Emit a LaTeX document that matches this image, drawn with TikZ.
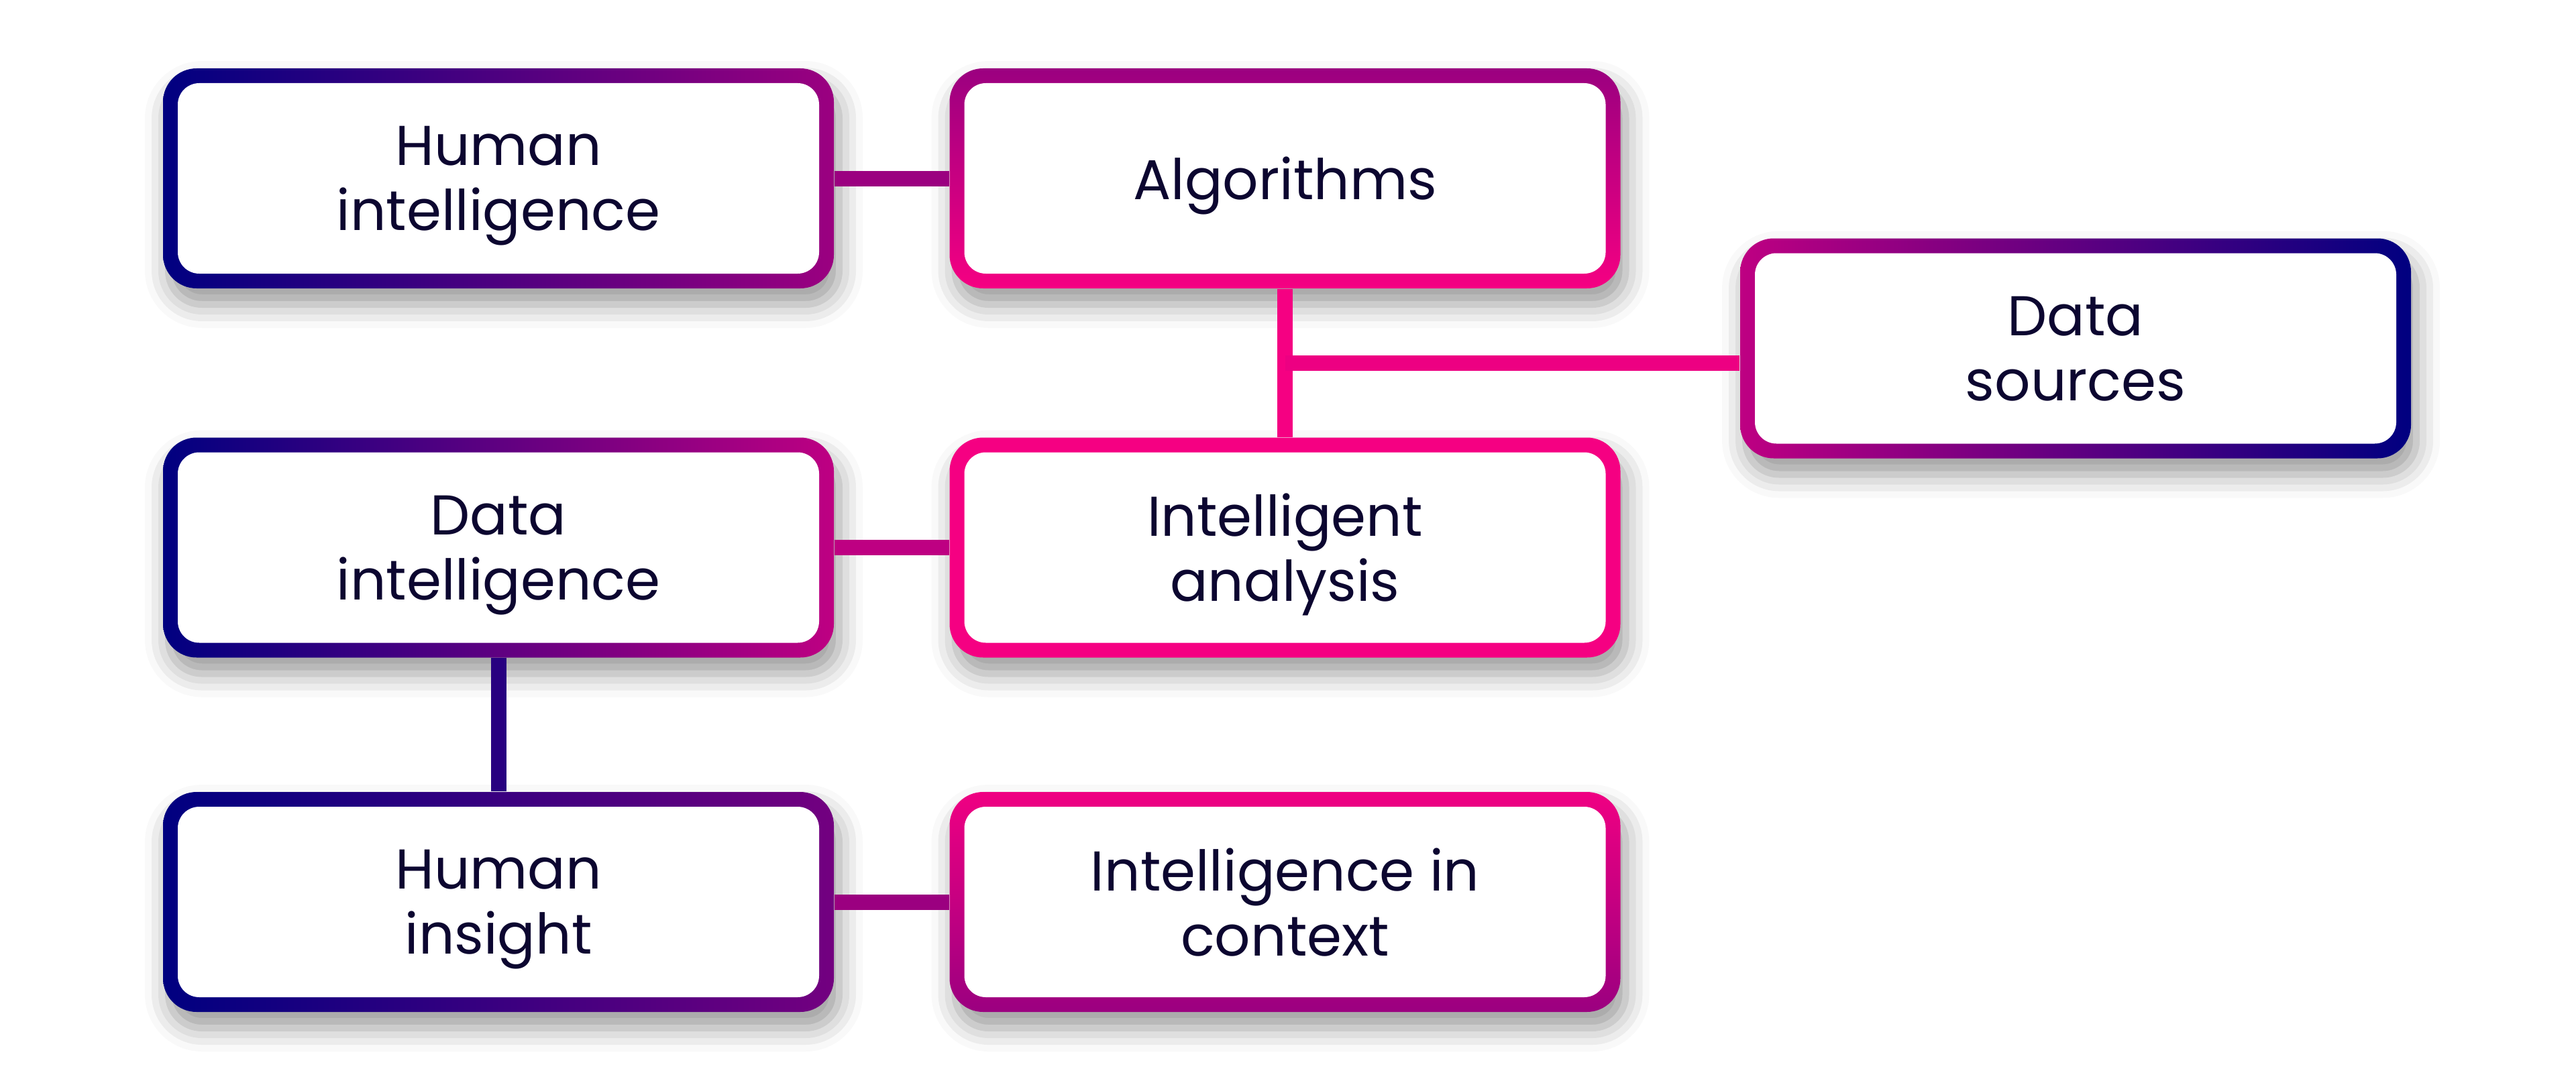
\documentclass[tikz,border=0pt]{standalone}
\usepackage{fontspec}
\setmainfont{Poppins}
\usetikzlibrary{calc,shadows.blur}

\definecolor{kNavy}{RGB}{0,0,128}
\definecolor{kIndigo}{RGB}{40,0,128}
\definecolor{kPurple}{RGB}{115,0,128}
\definecolor{kPlum}{RGB}{155,0,128}
\definecolor{kMagenta}{RGB}{190,0,130}
\definecolor{kPink}{RGB}{245,0,130}
\definecolor{kInk}{RGB}{12,6,48}

\begin{document}
\begin{tikzpicture}[
    box/.style={rectangle, rounded corners=0.5cm, minimum width=10cm, minimum height=3.28cm,
        inner sep=0pt, align=center, text=kInk, text depth=0pt, font=\fontsize{23.8}{27.6}\selectfont,
        blur shadow={shadow xshift=0.08cm, shadow yshift=-0.24cm, shadow blur radius=0.35cm, shadow opacity=40},
        path picture={\fill[white, rounded corners=0.32cm]
            ([shift={(0.22,0.22)}]path picture bounding box.south west) rectangle
            ([shift={(-0.22,-0.22)}]path picture bounding box.north east);}},
    link/.style={line width=0.23cm}
]

    % =================================================================
    % FRAME: 38.4 x 16.11 (1 cm = 100 px of the picture)
    % =================================================================
    \useasboundingbox (0,0) rectangle (38.4,-16.11);

    % =================================================================
    % PART 1: THE SEVEN BOXES
    % =================================================================
    % Left column
    \node[box, left color=kNavy, middle color=kNavy, right color=kPlum] (hi) at (7.43,-2.66) {Human\\intelligence};
    \node[box, left color=kNavy, middle color=kNavy, right color=kMagenta] (di) at (7.43,-8.165) {Data\\intelligence};
    \node[box, left color=kNavy, middle color=kNavy, right color=kPurple] (hins) at (7.43,-13.45) {Human\\insight};

    % Middle column
    \node[box, top color=kPlum, bottom color=kPink] (alg) at (19.155,-2.66) {Algorithms};
    \node[box, top color=kPink, bottom color=kPink] (ia) at (19.155,-8.165) {Intelligent\\analysis};
    \node[box, top color=kPink!90!kMagenta, bottom color=kPlum] (iic) at (19.155,-13.45) {Intelligence in\\context};

    % Right column
    \node[box, left color=kMagenta, middle color=kNavy, right color=kNavy] (ds) at (30.94,-5.195) {Data\\sources};

    % =================================================================
    % PART 2: CONNECTORS
    % =================================================================
    \draw[link, kPlum] (hi.east) -- (alg.west);
    \draw[link, kMagenta] (di.east) -- (ia.west);
    \draw[link, kPlum] (hins.east) -- (iic.west);

    \draw[link, kIndigo] (di.south) -- (hins.north);
    \draw[link, kPink] (alg.south) -- (ia.north);

    % Branch to the data sources, halfway down
    \coordinate (jn) at ($(alg.south)!0.5!(ia.north)$);
    \draw[link, kPink!85!kMagenta] (jn) -- (jn -| ds.west);

\end{tikzpicture}
\end{document}
